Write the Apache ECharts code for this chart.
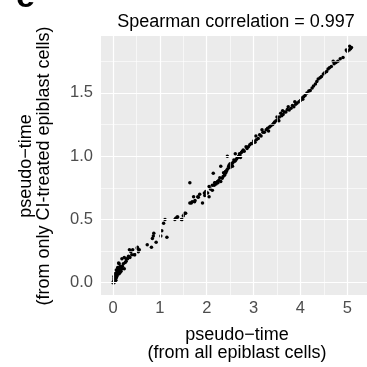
<!DOCTYPE html>
<html><head><meta charset="utf-8">
<script src="https://cdn.jsdelivr.net/npm/echarts@6/dist/echarts.min.js"></script>
<style>html,body{margin:0;padding:0;background:#fff}#c{width:367px;height:367px}</style>
</head><body><div id="c"></div>
<script>
const xTicks = [0, 1, 2, 3, 4, 5];
const yTicks = [0, 0.5, 1, 1.5];
const xMinor = [0.5, 1.5, 2.5, 3.5, 4.5];
const yMinor = [0.25, 0.75, 1.25, 1.75];
const titleText = 'Spearman correlation = 0.997';
const xTitle = 'pseudo\u2212time\n(from all epiblast cells)';
const yTitle = 'pseudo\u2212time\n(from only CI-treated epiblast cells)';

// [pseudo-time (all epiblast cells), pseudo-time (only CI-treated epiblast cells)]
const cellsEarly = [
[0.00,0.00],[0.01,0.01],[0.02,0.00],[0.02,0.03],[0.03,0.02],[0.03,0.04],[0.04,0.01],[0.04,0.05],
[0.05,0.03],[0.05,0.06],[0.06,0.02],[0.06,0.05],[0.07,0.04],[0.07,0.07],[0.08,0.05],[0.08,0.08],
[0.09,0.06],[0.09,0.10],[0.10,0.07],[0.10,0.09],[0.11,0.08],[0.11,0.11],[0.12,0.09],[0.12,0.12],
[0.13,0.07],[0.13,0.10],[0.14,0.09],[0.14,0.12],[0.15,0.08],[0.15,0.11],[0.16,0.10],[0.16,0.13],
[0.17,0.09],[0.18,0.12],[0.19,0.11],[0.04,0.07],[0.07,0.10],[0.10,0.12],[0.12,0.155],[0.13,0.15],
[0.02,0.05]
];
const cellsLow = [
[0.19,0.19],[0.20,0.13],[0.22,0.15],[0.24,0.11],[0.24,0.20],[0.26,0.16],[0.28,0.17],[0.28,0.19],
[0.31,0.19],[0.33,0.21],[0.35,0.26],[0.36,0.20],[0.38,0.245],[0.40,0.22],[0.42,0.26],[0.45,0.22],
[0.47,0.22],[0.52,0.27],[0.52,0.28],[0.54,0.245],[0.56,0.26],
[0.73,0.30],[0.82,0.28],[0.84,0.35],[0.86,0.37],[0.87,0.39],[0.92,0.32],[1.02,0.37],[1.04,0.41],
[1.08,0.47],[1.11,0.50],[1.15,0.36],[1.32,0.50],[1.34,0.51],[1.37,0.52],[1.38,0.52],[1.46,0.50],
[1.48,0.50],[1.50,0.53],[1.53,0.55],[1.55,0.55],[1.64,0.79]
];
const cellsMid = [
[1.64,0.63],[1.67,0.63],[1.69,0.64],[1.72,0.68],[1.74,0.64],[1.75,0.65],[1.81,0.68],[1.82,0.675],
[1.85,0.70],[1.91,0.63],[1.95,0.71],[1.96,0.69],[1.98,0.72],[2.02,0.71],[2.05,0.68],[2.05,0.76],
[2.08,0.74],[2.12,0.73],[2.12,0.77],[2.14,0.865],[2.16,0.77],[2.17,0.79],[2.18,0.79],[2.20,0.78],
[2.23,0.80],[2.24,0.79],[2.26,0.81],[2.28,0.83],[2.30,0.92],[2.30,0.80],[2.33,0.825],[2.35,0.84],
[2.36,0.87],[2.38,0.85],[2.40,0.865],[2.40,0.88],[2.42,0.88],[2.43,0.89],[2.44,1.00],[2.45,0.90],
[2.47,0.92],[2.48,0.93],[2.50,0.91],[2.50,0.94],[2.52,0.93],[2.54,0.94],[2.55,0.92],[2.56,0.95],
[2.58,0.97],[2.60,0.96],[2.61,1.02],[2.62,0.97],[2.64,0.98],[2.66,0.99],[2.68,1.00],[2.70,1.02],
[2.71,1.01],[2.72,0.99],[2.74,1.03],[2.76,1.04],[2.78,1.05],[2.80,1.04],[2.84,1.075],[2.86,1.06],
[2.89,1.075],[2.92,1.09],[2.95,1.10],[2.98,1.10],[3.00,1.12],[3.03,1.11]
];
const cellsLate = [
[3.05,1.16],[3.06,1.13],[3.10,1.14],[3.13,1.17],[3.16,1.16],[3.18,1.21],[3.20,1.19],[3.23,1.19],
[3.27,1.21],[3.30,1.22],[3.32,1.20],[3.34,1.23],[3.37,1.24],[3.41,1.25],[3.43,1.26],[3.45,1.27],
[3.48,1.28],[3.50,1.31],[3.52,1.29],[3.54,1.28],[3.55,1.31],[3.58,1.34],[3.60,1.32],[3.62,1.36],
[3.63,1.33],[3.66,1.35],[3.69,1.35],[3.72,1.37],[3.74,1.39],[3.76,1.365],[3.80,1.38],[3.83,1.40],
[3.86,1.39],[3.88,1.43],[3.90,1.41],[3.93,1.42],[3.97,1.43],[4.00,1.44],[4.03,1.46],[4.05,1.45],
[4.07,1.47],[4.10,1.48],[4.14,1.50],[4.18,1.515],[4.21,1.52],[4.25,1.54],[4.28,1.555],
[4.32,1.57],[4.35,1.59],[4.38,1.61],[4.42,1.62],[4.45,1.63],[4.49,1.65],[4.52,1.66],[4.56,1.67],
[4.59,1.69],[4.62,1.70],[4.66,1.71],[4.70,1.75],[4.72,1.73],[4.76,1.74],[4.80,1.75],[4.85,1.77],
[4.91,1.78],[4.98,1.84],[5.00,1.83],[5.04,1.84],[5.07,1.85],[5.09,1.86],[5.05,1.87]
];
const cells = [].concat(cellsEarly, cellsLow, cellsMid, cellsLate);

const FONT = '"Liberation Sans", Arial, Helvetica, sans-serif';
const chart = echarts.init(document.getElementById('c'), null, {renderer: 'canvas'});

const gridLines = [].concat(
  xTicks.map(v => ({xAxis: v, lineStyle: {color: '#fff', width: 1.2, type: 'solid'}})),
  xMinor.map(v => ({xAxis: v, lineStyle: {color: '#fff', width: 0.6, type: 'solid'}})),
  yTicks.map(v => ({yAxis: v, lineStyle: {color: '#fff', width: 1.2, type: 'solid'}})),
  yMinor.map(v => ({yAxis: v, lineStyle: {color: '#fff', width: 0.6, type: 'solid'}}))
);

chart.setOption({
  animation: false,
  backgroundColor: '#fff',
  grid: {left: 101, top: 36, width: 272, height: 259, show: true, backgroundColor: '#EBEBEB', borderWidth: 0},
  xAxis: {
    type: 'value', min: -0.2568, max: 5.4217,
    axisLine: {show: false},
    splitLine: {show: false},
    axisTick: {show: true, customValues: xTicks, length: 3, lineStyle: {color: '#333', width: 1}},
    axisLabel: {customValues: xTicks, margin: 5, color: '#4D4D4D', fontSize: 16.5, fontFamily: FONT,
      formatter: v => String(v)}
  },
  yAxis: {
    type: 'value', min: -0.0972, max: 1.9502,
    axisLine: {show: false},
    splitLine: {show: false},
    axisTick: {show: true, customValues: yTicks, length: 3, lineStyle: {color: '#333', width: 1}},
    axisLabel: {customValues: yTicks, margin: 8, color: '#4D4D4D', fontSize: 16.5, fontFamily: FONT,
      formatter: v => Number(v).toFixed(1)}
  },
  series: [
    {type: 'scatter', data: [], z: 1, silent: true,
      markLine: {silent: true, symbol: 'none', animation: false, label: {show: false}, data: gridLines}},
    {type: 'scatter', data: cells, z: 3, silent: true, symbolSize: 3.5,
      itemStyle: {color: '#000', opacity: 1}}
  ],
  graphic: [
    {type: 'text', x: 236, y: 22, silent: true,
      style: {text: titleText, fill: '#000', font: '18px ' + FONT, align: 'center', verticalAlign: 'middle'}},
    {type: 'text', x: 237, y: 344, silent: true,
      style: {text: xTitle, fill: '#000', font: '18px ' + FONT, align: 'center', verticalAlign: 'middle', lineHeight: 18}},
    {type: 'text', x: 35, y: 166, rotation: Math.PI / 2, silent: true,
      style: {text: yTitle, fill: '#000', font: '18px ' + FONT, align: 'center', verticalAlign: 'middle', lineHeight: 18}},
    {type: 'text', x: 16, y: -2, silent: true,
      style: {text: 'e', fill: '#000', font: 'bold 34px ' + FONT, align: 'left', verticalAlign: 'middle'}}
  ]
});
</script>
</body></html>
